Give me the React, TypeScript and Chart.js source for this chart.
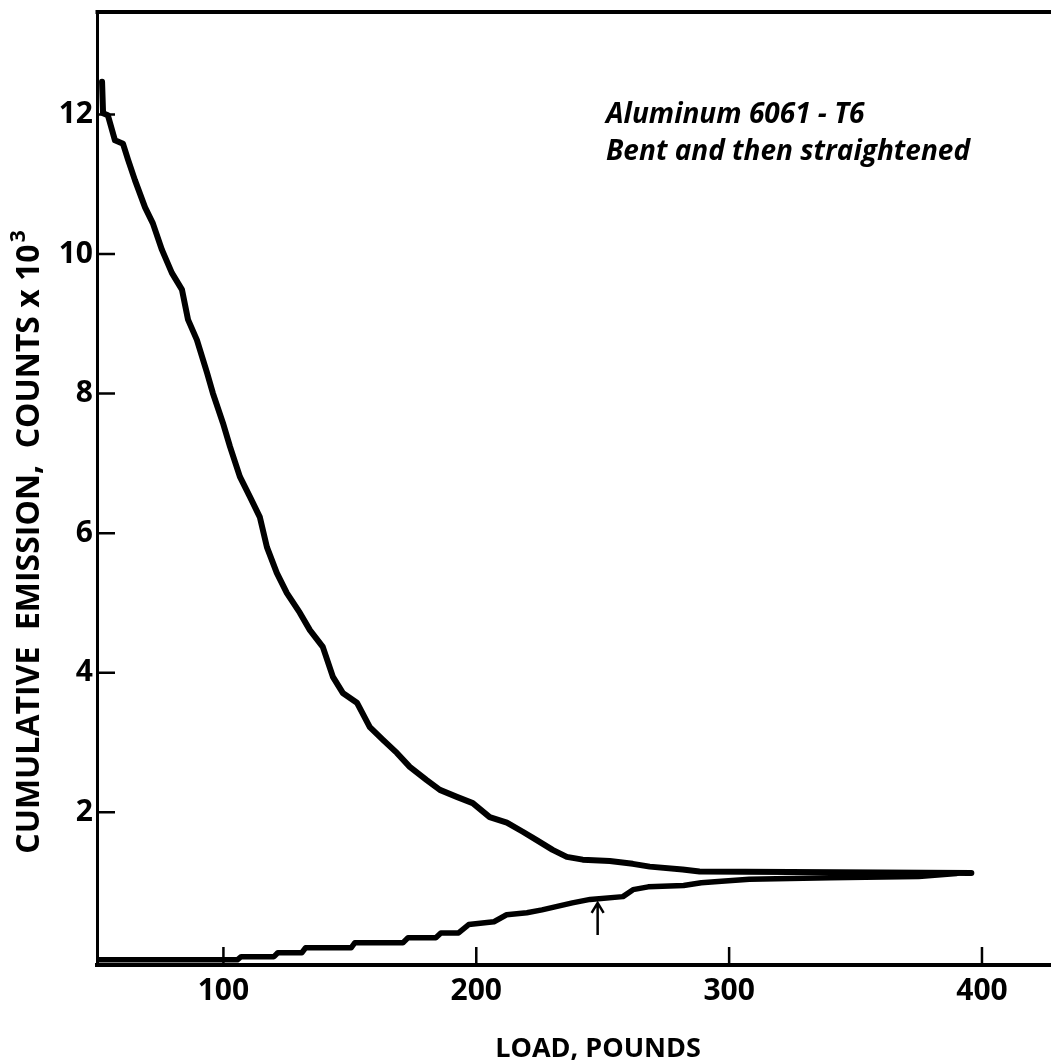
import React, { useEffect, useRef } from 'react';
import { Chart, registerables } from 'chart.js';

Chart.register(...registerables);

// ---- data (load in pounds, cumulative counts x 10^3) ----
const upperLoad = [52, 52.4, 54.3, 57.1, 60.3, 62.3, 65.0, 69.0, 72.1, 75.7, 79.6, 83.6, 86.0, 89.5, 93.5, 95.8, 99.8, 102.6, 106.5, 110.5, 114.4, 117.2, 121.1, 125.1, 130.2, 134.2, 139.3, 143.3, 147.2, 152.8, 157.9, 163.0, 168.6, 173.7, 180.4, 185.6, 192.3, 198.6, 205.3, 212.1, 218.4, 223.9, 230.2, 235.8, 242.1, 252.8, 261.9, 268.6, 281.6, 288.3, 395.8];
const upperCounts = [12.47, 12.02, 11.99, 11.63, 11.58, 11.35, 11.06, 10.67, 10.44, 10.06, 9.73, 9.49, 9.06, 8.77, 8.30, 8.01, 7.58, 7.24, 6.81, 6.52, 6.23, 5.80, 5.43, 5.14, 4.86, 4.61, 4.37, 3.94, 3.71, 3.57, 3.22, 3.04, 2.85, 2.65, 2.46, 2.32, 2.22, 2.13, 1.93, 1.85, 1.72, 1.60, 1.46, 1.36, 1.32, 1.30, 1.26, 1.22, 1.18, 1.15, 1.13];

const lowerLoad = [50, 105.5, 107, 120, 121.5, 131, 132.5, 150.5, 152, 171, 173, 184, 186, 193, 197, 207, 212, 220, 226, 232, 238, 245, 258, 262, 268, 282, 289, 297, 308, 340, 375, 390];
const lowerCounts = [-0.115, -0.115, -0.07, -0.07, -0.014, -0.014, 0.057, 0.057, 0.13, 0.13, 0.2, 0.2, 0.27, 0.27, 0.39, 0.43, 0.53, 0.56, 0.6, 0.65, 0.7, 0.75, 0.79, 0.89, 0.93, 0.95, 0.99, 1.01, 1.04, 1.06, 1.08, 1.12];

const xTickValues = [100, 200, 300, 400];
const yTickValues = [2, 4, 6, 8, 10, 12];

const annotationLines = ['Aluminum 6061 - T6', 'Bent and then straightened'];
const xTitle = 'LOAD, POUNDS';
const yTitle = 'CUMULATIVE  EMISSION,  COUNTS x 10';
const yTitleExponent = '3';

const arrowLoad = 248;
const arrowCountsFrom = 0.24;
const arrowCountsTo = 0.7;

const FONT = '"Open Sans", "DejaVu Sans", sans-serif';

const decorPlugin = {
  id: 'decor',
  beforeDraw(chart: any) {
    const ctx = chart.ctx;
    ctx.save();
    ctx.fillStyle = '#fff';
    ctx.fillRect(0, 0, chart.width, chart.height);
    ctx.restore();
  },
  afterDraw(chart: any) {
    const { ctx, chartArea } = chart;
    const xs = chart.scales.x;
    const ys = chart.scales.y;
    ctx.save();
    ctx.strokeStyle = '#000';
    ctx.fillStyle = '#000';

    // top frame line
    ctx.lineWidth = 4;
    ctx.beginPath();
    ctx.moveTo(chartArea.left - 1.5, chartArea.top);
    ctx.lineTo(chartArea.right, chartArea.top);
    ctx.stroke();

    // inward tick marks
    ctx.lineWidth = 2.5;
    ctx.beginPath();
    yTickValues.forEach((v) => {
      const py = ys.getPixelForValue(v);
      ctx.moveTo(chartArea.left, py);
      ctx.lineTo(chartArea.left + 18, py);
    });
    xTickValues.forEach((v) => {
      const px = xs.getPixelForValue(v);
      ctx.moveTo(px, chartArea.bottom);
      ctx.lineTo(px, chartArea.bottom - 18);
    });
    ctx.stroke();

    // arrow
    const ax = xs.getPixelForValue(arrowLoad);
    const ay0 = ys.getPixelForValue(arrowCountsFrom);
    const ay1 = ys.getPixelForValue(arrowCountsTo);
    ctx.lineWidth = 2.5;
    ctx.beginPath();
    ctx.moveTo(ax, ay0);
    ctx.lineTo(ax, ay1);
    ctx.moveTo(ax - 6, ay1 + 10);
    ctx.lineTo(ax, ay1);
    ctx.lineTo(ax + 6, ay1 + 10);
    ctx.stroke();

    // annotation
    ctx.font = `italic 700 28px ${FONT}`;
    ctx.textAlign = 'left';
    ctx.textBaseline = 'alphabetic';
    ctx.fillText(annotationLines[0], 606, 123);
    ctx.fillText(annotationLines[1], 606, 160);

    // x title
    ctx.font = `700 27px ${FONT}`;
    ctx.textAlign = 'center';
    ctx.textBaseline = 'middle';
    ctx.fillText(xTitle, 598, 1049);

    // y title (rotated)
    ctx.translate(30, 542);
    ctx.rotate(-Math.PI / 2);
    ctx.font = `700 32px ${FONT}`;
    const w1 = ctx.measureText(yTitle).width;
    ctx.font = `700 21px ${FONT}`;
    const w2 = ctx.measureText(yTitleExponent).width;
    const total = w1 + w2 + 2;
    ctx.textAlign = 'left';
    ctx.textBaseline = 'middle';
    ctx.font = `700 32px ${FONT}`;
    ctx.fillText(yTitle, -total / 2, 0);
    ctx.font = `700 21px ${FONT}`;
    ctx.fillText(yTitleExponent, -total / 2 + w1 + 2, -11);
    ctx.restore();
  },
};

export default function App() {
  const ref = useRef<HTMLCanvasElement | null>(null);

  useEffect(() => {
    if (!ref.current) return;
    const upper = upperLoad.map((x, i) => ({ x, y: upperCounts[i] }));
    const lower = lowerLoad.map((x, i) => ({ x, y: lowerCounts[i] }));
    const chart = new Chart(ref.current, {
      type: 'line',
      data: {
        datasets: [
          {
            label: 'Upper',
            data: upper,
            borderColor: '#000',
            borderWidth: 6,
            pointRadius: 0,
            tension: 0,
            fill: false,
            borderJoinStyle: 'round',
            borderCapStyle: 'round',
          },
          {
            label: 'Lower',
            data: lower,
            borderColor: '#000',
            borderWidth: 5.5,
            pointRadius: 0,
            tension: 0,
            fill: false,
            borderJoinStyle: 'round',
            borderCapStyle: 'round',
          },
        ],
      },
      options: {
        responsive: false,
        animation: false,
        events: [],
        layout: { padding: { top: 12, left: 0, right: 0, bottom: 0 }, autoPadding: false },
        plugins: { legend: { display: false }, tooltip: { enabled: false }, title: { display: false } },
        scales: {
          x: {
            type: 'linear',
            min: 50,
            max: 427.3,
            afterBuildTicks: (scale: any) => {
              scale.ticks = xTickValues.map((v) => ({ value: v }));
            },
            afterFit: (scale: any) => {
              scale.height = 97;
              scale.paddingLeft = 0;
              scale.paddingRight = 0;
            },
            grid: { display: false, drawTicks: false },
            border: { display: true, color: '#000', width: 4 },
            ticks: {
              color: '#000',
              padding: 8,
              maxRotation: 0,
              autoSkip: false,
              font: { family: FONT, size: 30, weight: '700' as any },
            },
          },
          y: {
            type: 'linear',
            min: -0.19,
            max: 13.47,
            afterBuildTicks: (scale: any) => {
              scale.ticks = yTickValues.map((v) => ({ value: v }));
            },
            afterFit: (scale: any) => {
              scale.width = 97;
              scale.paddingTop = 0;
              scale.paddingBottom = 0;
            },
            grid: { display: false, drawTicks: false },
            border: { display: true, color: '#000', width: 3 },
            ticks: {
              color: '#000',
              padding: 4,
              autoSkip: false,
              font: { family: FONT, size: 30, weight: '700' as any },
            },
          },
        },
      },
      plugins: [decorPlugin],
    });
    return () => chart.destroy();
  }, []);

  return (
    <div style={{ position: 'fixed', left: 0, top: 0, width: 1051, height: 1062, background: '#fff' }}>
      <canvas ref={ref} width={1051} height={1062} style={{ display: 'block' }} />
    </div>
  );
}
